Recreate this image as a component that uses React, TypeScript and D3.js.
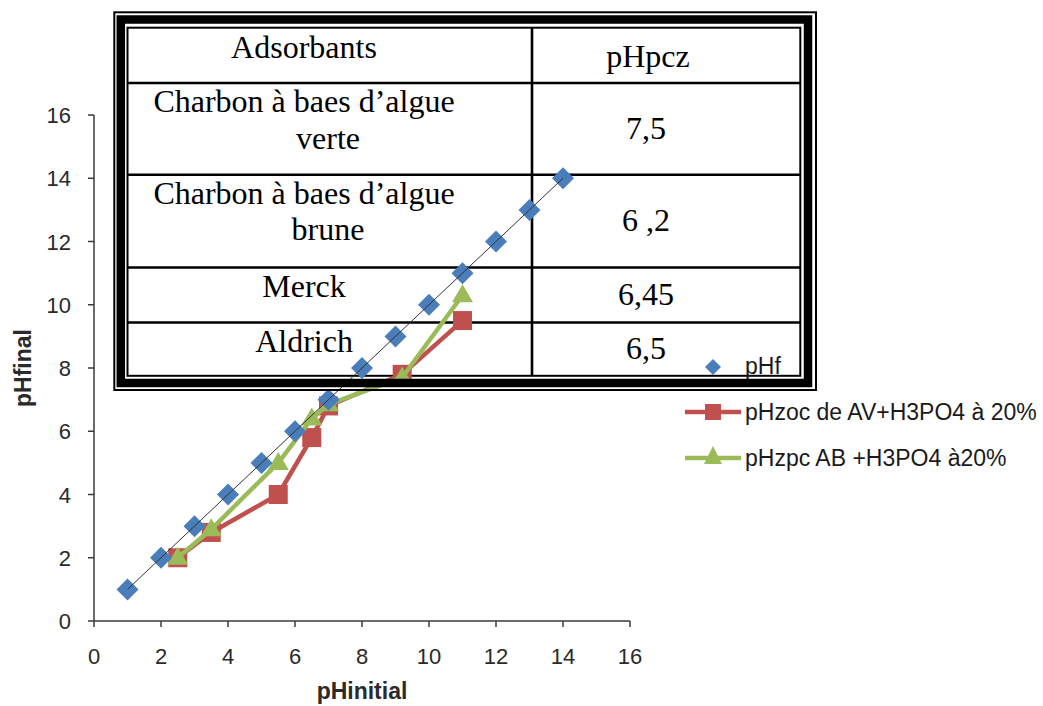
import React from "react";
import * as d3 from "d3";

// ---------- data ----------
const xTicks = [0, 2, 4, 6, 8, 10, 12, 14, 16];
const yTicks = [0, 2, 4, 6, 8, 10, 12, 14, 16];

const pHfX = [1, 2, 3, 4, 5, 6, 7, 8, 9, 10, 11, 12, 13, 14];
const pHfY = [1, 2, 3, 4, 5, 6, 7, 8, 9, 10, 11, 12, 13, 14];

const avX = [2.5, 3.5, 5.5, 6.5, 7, 9.2, 11];
const avY = [2, 2.8, 4, 5.8, 6.8, 7.8, 9.5];

const abX = [2.5, 3.5, 5.5, 6.5, 7, 9.2, 11];
const abY = [2, 2.9, 5, 6.4, 6.85, 7.7, 10.3];

const seriesNames = ["pHf", "pHzoc de AV+H3PO4 à 20%", "pHzpc AB +H3PO4 à20%"];

const tableHeaders = ["Adsorbants", "pHpcz"];
const adsorbants = [
  ["Charbon à baes d’algue", "verte"],
  ["Charbon à baes d’algue", "brune"],
  ["Merck"],
  ["Aldrich"],
];
const pHpczValues = ["7,5", "6 ,2", "6,45", "6,5"];

// ---------- layout ----------
const W = 1043;
const H = 706;
const BLUE = "#4A7EBB";
const RED = "#C0504D";
const GREEN = "#9BBB59";
const AXIS = "#3a3a3a";
const SANS = "'Liberation Sans', Arial, sans-serif";
const SERIF = "'Liberation Serif', 'Times New Roman', serif";

const x = d3.scaleLinear().domain([0, 16]).range([94, 630]);
const y = d3.scaleLinear().domain([0, 16]).range([621, 115]);

const rowEdges = [27.7, 83, 174.7, 267.5, 322.5, 375.8];
const colLeft = 127.5;
const colMid = 532;
const colRight = 800.3;
const leftTextX = 304;
const leftTextX2 = 328;
const rightTextX = 646;

const diamond = (cx: number, cy: number, r: number) =>
  `M${cx},${cy - r}L${cx + r},${cy}L${cx},${cy + r}L${cx - r},${cy}Z`;
const triangle = (cx: number, cy: number, hw: number) =>
  `M${cx},${cy - 11}L${cx + hw},${cy + 7}L${cx - hw},${cy + 7}Z`;

export default function App() {
  const lineGen = d3
    .line<[number, number]>()
    .x((d) => x(d[0]))
    .y((d) => y(d[1]));

  const avPts: [number, number][] = avX.map((v, i) => [v, avY[i]]);
  const abPts: [number, number][] = abX.map((v, i) => [v, abY[i]]);
  const pHfPts: [number, number][] = pHfX.map((v, i) => [v, pHfY[i]]);

  const legendX = 713;
  const legendYs = [367, 412, 458];

  return (
    <svg
      width={W}
      height={H}
      style={{ position: "absolute", left: 0, top: 0, background: "#fff" }}
    >
      <rect x={0} y={0} width={W} height={H} fill="#fff" />

      {/* table grid */}
      <g stroke="#000" fill="none">
        <rect
          x={colLeft}
          y={rowEdges[0]}
          width={colRight - colLeft}
          height={rowEdges[5] - rowEdges[0]}
          strokeWidth={2}
        />
        <line x1={colMid} x2={colMid} y1={rowEdges[0]} y2={rowEdges[5]} strokeWidth={2.6} />
        {rowEdges.slice(1, 5).map((ry, i) => (
          <line key={i} x1={colLeft} x2={colRight} y1={ry} y2={ry} strokeWidth={2.6} />
        ))}
      </g>

      {/* table text */}
      <g fontFamily={SERIF} fontSize={32} fill="#000" textAnchor="middle">
        <text x={leftTextX} y={rowEdges[0] + 30}>
          {tableHeaders[0]}
        </text>
        <text x={rightTextX + 2} y={(rowEdges[0] + rowEdges[1]) / 2 + 12}>
          {tableHeaders[1]}
        </text>
        {adsorbants.map((lines, r) =>
          lines.map((ln, i) => (
            <text
              key={`${r}-${i}`}
              x={i === 0 ? leftTextX : leftTextX2}
              y={rowEdges[r + 1] + 29 + i * 36.5}
            >
              {ln}
            </text>
          ))
        )}
        {pHpczValues.map((v, r) => (
          <text key={r} x={rightTextX} y={(rowEdges[r + 1] + rowEdges[r + 2]) / 2 + 10}>
            {v}
          </text>
        ))}
      </g>

      {/* axes */}
      <g stroke={AXIS} strokeWidth={1.5}>
        <line x1={x(0)} x2={x(0)} y1={y(16)} y2={y(0)} />
        <line x1={x(0)} x2={x(16)} y1={y(0)} y2={y(0)} />
        {yTicks.map((t) => (
          <line key={`yt${t}`} x1={x(0) - 6} x2={x(0)} y1={y(t)} y2={y(t)} />
        ))}
        {xTicks.map((t) => (
          <line key={`xt${t}`} x1={x(t)} x2={x(t)} y1={y(0)} y2={y(0) + 6} />
        ))}
      </g>
      <g fontFamily={SANS} fontSize={22} fill="#2a2a2a">
        {yTicks.map((t) => (
          <text key={`yl${t}`} x={71} y={y(t) + 8} textAnchor="end">
            {t}
          </text>
        ))}
        {xTicks.map((t) => (
          <text key={`xl${t}`} x={x(t)} y={664} textAnchor="middle">
            {t}
          </text>
        ))}
      </g>
      <text
        x={362}
        y={699}
        fontFamily={SANS}
        fontSize={23}
        fontWeight="bold"
        textAnchor="middle"
        fill="#2a2a2a"
      >
        pHinitial
      </text>
      <text
        transform={`translate(31,368) rotate(-90)`}
        fontFamily={SANS}
        fontSize={23}
        fontWeight="bold"
        textAnchor="middle"
        fill="#2a2a2a"
      >
        pHfinal
      </text>

      {/* series AV (red) */}
      <path d={lineGen(avPts) || ""} fill="none" stroke={RED} strokeWidth={4.5} strokeLinejoin="round" />
      {avPts.map((p, i) => (
        <rect key={`av${i}`} x={x(p[0]) - 9.5} y={y(p[1]) - 9.5} width={19} height={19} fill={RED} />
      ))}

      {/* series AB (green) */}
      <path d={lineGen(abPts) || ""} fill="none" stroke={GREEN} strokeWidth={4.5} strokeLinejoin="round" />
      {abPts.map((p, i) => (
        <path key={`ab${i}`} d={triangle(x(p[0]), y(p[1]), 10.5)} fill={GREEN} />
      ))}

      {/* pHf diamonds */}
      {pHfPts.map((p, i) => (
        <path key={`f${i}`} d={diamond(x(p[0]), y(p[1]), 11)} fill={BLUE} />
      ))}
      <path d={lineGen(pHfPts) || ""} fill="none" stroke="#333" strokeWidth={1} />

      {/* legend */}
      <g fontFamily={SANS} fontSize={23} fill="#1a1a1a">
        <path d={diamond(legendX, legendYs[0], 8)} fill={BLUE} />
        <text x={745} y={legendYs[0] + 7}>{seriesNames[0]}</text>

        <line x1={685} x2={741} y1={legendYs[1]} y2={legendYs[1]} stroke={RED} strokeWidth={4.5} />
        <rect x={legendX - 8} y={legendYs[1] - 8} width={16} height={16} fill={RED} />
        <text x={745} y={legendYs[1] + 8}>{seriesNames[1]}</text>

        <line x1={685} x2={741} y1={legendYs[2]} y2={legendYs[2]} stroke={GREEN} strokeWidth={4.5} />
        <path d={triangle(legendX, legendYs[2] - 1, 9)} fill={GREEN} />
        <text x={745} y={legendYs[2] + 8}>{seriesNames[2]}</text>
      </g>

      {/* table outer frame (on top) */}
      <g stroke="#000" fill="none">
        <rect x={114.3} y={12.3} width={816 - 114.3} height={390 - 12.3} strokeWidth={2} />
        <rect x={120.8} y={19.5} width={808 - 120.8} height={383 - 19.5} strokeWidth={8.5} />
      </g>
    </svg>
  );
}
